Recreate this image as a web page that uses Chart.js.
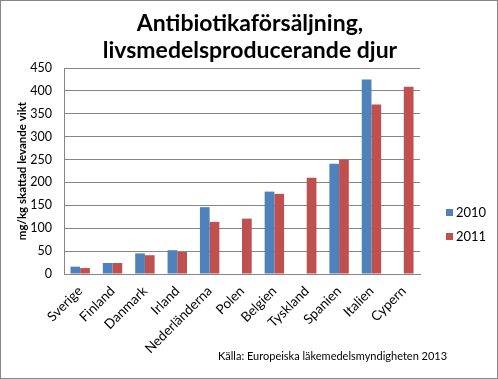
<!DOCTYPE html>
<html>
<head>
<meta charset="utf-8">
<script src="https://cdn.jsdelivr.net/npm/chart.js@4.4.1/dist/chart.umd.min.js"></script>
<style>
html,body{margin:0;padding:0;background:#fff;}
canvas{display:block;}
</style>
</head>
<body>
<canvas id="c" width="498" height="379"></canvas>
<script>
const categories = ["Sverige","Finland","Danmark","Irland","Nederländerna","Polen","Belgien","Tyskland","Spanien","Italien","Cypern"];
const values2010 = [16, 24, 45, 52, 146, null, 180, null, 241, 425, null];
const values2011 = [13, 24, 41, 48, 114, 121, 175, 210, 250, 370, 409];
const seriesLabels = ["2010", "2011"];
const titleLines = ["Antibiotikaförsäljning,", "livsmedelsproducerande djur"];
const yAxisTitle = "mg/kg skattad levande vikt";
const sourceText = "Källa: Europeiska läkemedelsmyndigheten 2013";

const FONT = "Lato, 'Open Sans', 'DejaVu Sans', sans-serif";
const GRID = "#868686";

const decor = {
  id: 'decor',
  afterDraw(chart) {
    const ctx = chart.ctx;
    ctx.save();
    // outer border
    ctx.strokeStyle = GRID;
    ctx.lineWidth = 1;
    ctx.strokeRect(0.5, 0.5, chart.width - 1, chart.height - 1);
    // title
    ctx.fillStyle = "#000";
    ctx.textAlign = "center";
    ctx.textBaseline = "alphabetic";
    ctx.font = "bold 23px " + FONT;
    ctx.fillText(titleLines[0], 250, 31);
    ctx.fillText(titleLines[1], 250, 58);
    // legend
    ctx.textAlign = "left";
    ctx.textBaseline = "middle";
    ctx.font = "13px " + FONT;
    chart.data.datasets.forEach((ds, i) => {
      const y = 212 + i * 24;
      ctx.fillStyle = ds.backgroundColor;
      ctx.fillRect(446, y - 3, 7, 7);
      ctx.fillStyle = "#000";
      ctx.fillText(ds.label, 456, y + 1);
    });
    // source
    ctx.font = "11px " + FONT;
    ctx.textAlign = "left";
    ctx.fillText(sourceText, 218, 356);
    ctx.restore();
  }
};

new Chart(document.getElementById('c'), {
  type: 'bar',
  data: {
    labels: categories,
    datasets: [
      { label: seriesLabels[0], data: values2010, backgroundColor: "#4F81BD", categoryPercentage: 0.6, barPercentage: 1.0 },
      { label: seriesLabels[1], data: values2011, backgroundColor: "#C0504D", categoryPercentage: 0.6, barPercentage: 1.0 }
    ]
  },
  options: {
    responsive: false,
    animation: false,
    layout: { padding: { left: 0, right: 78, top: 68, bottom: 0 } },
    plugins: { legend: { display: false }, title: { display: false }, tooltip: { enabled: false } },
    scales: {
      x: {
        grid: { display: false, drawTicks: false },
        border: { display: true, color: GRID },
        ticks: { color: "#000", font: { family: FONT, size: 13.5 }, minRotation: 45, maxRotation: 45, padding: 9, autoSkip: false },
        afterFit(scale) { scale.height = 105; }
      },
      y: {
        min: 0, max: 450,
        grid: { color: GRID, drawTicks: false },
        border: { display: true, color: GRID },
        ticks: { stepSize: 50, color: "#000", font: { family: FONT, size: 12.5 }, padding: 12 },
        title: { display: true, text: yAxisTitle, color: "#000", font: { family: FONT, size: 11.5, weight: 'bold' }, padding: { top: 15, bottom: 0 } },
        afterFit(scale) { scale.width = 64; }
      }
    }
  },
  plugins: [decor]
});
</script>
</body>
</html>
